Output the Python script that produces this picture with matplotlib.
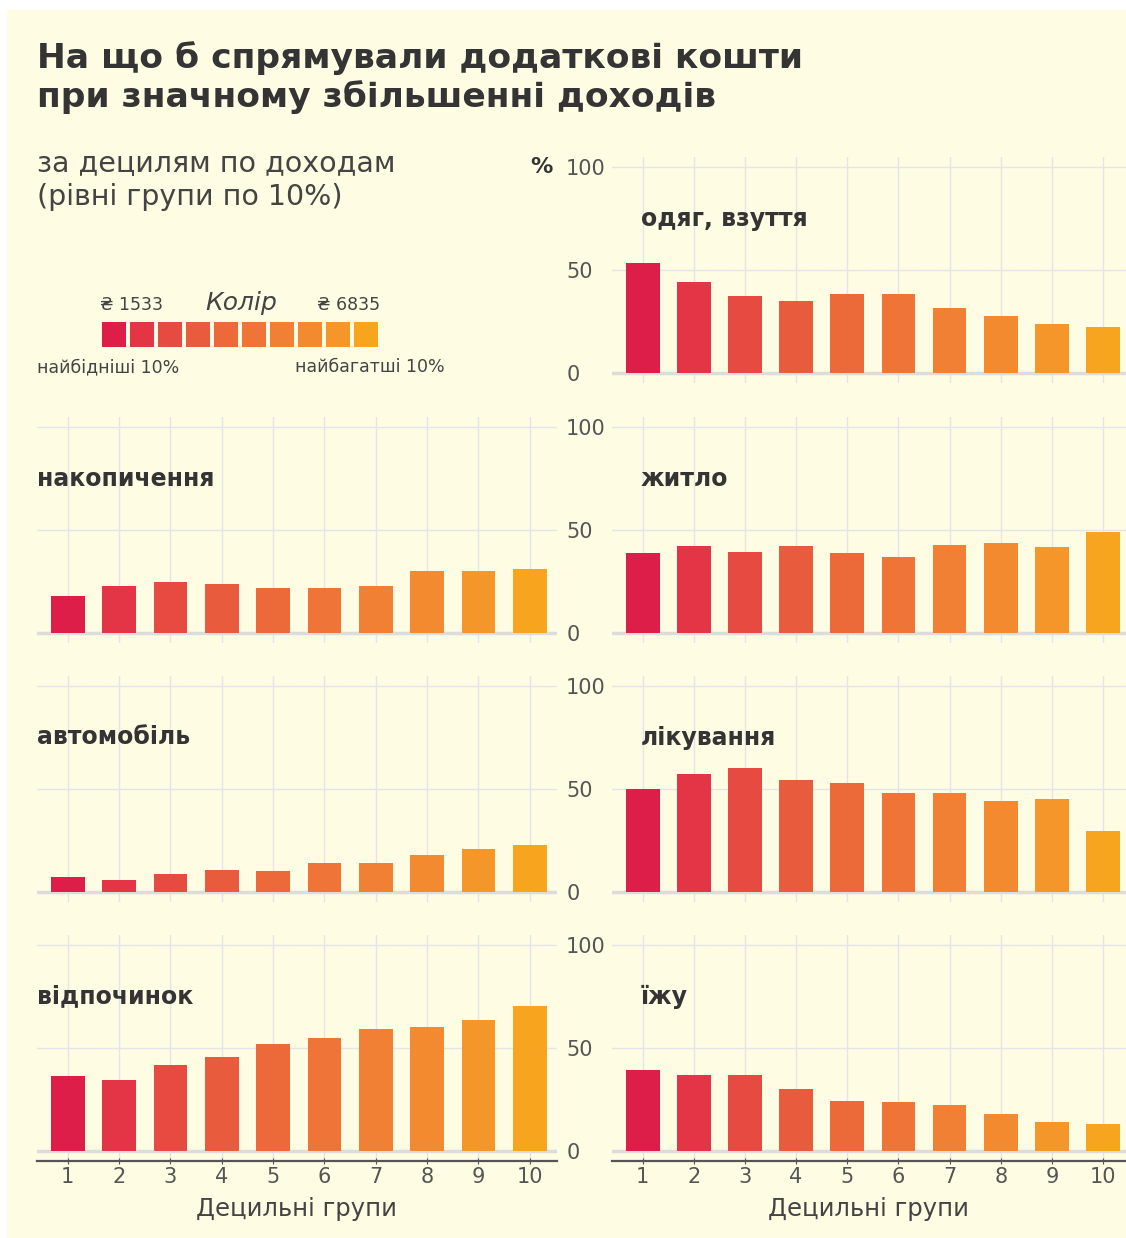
import matplotlib
matplotlib.use('Agg')
import matplotlib.pyplot as plt
from matplotlib.patches import Rectangle

plt.rcParams['font.family'] = ['DejaVu Sans']

deciles = [1, 2, 3, 4, 5, 6, 7, 8, 9, 10]
colors = ['#dc1e48', '#e33546', '#e74a40', '#e95b3d', '#ec6a3a',
          '#ef7437', '#f17f34', '#f38a2f', '#f5962a', '#f7a51e']

clothes = [53.3, 44.1, 37.6, 35.0, 38.4, 38.4, 31.4, 27.9, 23.7, 22.2]
savings = [18.2, 22.6, 24.9, 23.9, 21.7, 21.7, 22.8, 30.0, 30.1, 31.1]
housing = [38.6, 42.4, 39.1, 42.0, 38.6, 36.9, 42.9, 43.5, 41.7, 49.2]
car = [7.2, 5.7, 8.5, 10.7, 10.1, 14.0, 14.2, 17.9, 20.7, 22.8]
health = [50.0, 57.5, 60.1, 54.6, 52.9, 48.0, 47.9, 44.0, 45.1, 29.8]
leisure = [36.6, 34.5, 41.9, 45.8, 51.8, 54.9, 59.1, 60.1, 63.8, 70.2]
food = [39.1, 37.0, 36.8, 30.0, 24.1, 23.8, 22.5, 18.2, 14.0, 12.9]

# (row, column, title, values); column 0 = left, 1 = right
panels = [
    (0, 1, 'одяг, взуття', clothes),
    (1, 0, 'накопичення', savings),
    (1, 1, 'житло', housing),
    (2, 0, 'автомобіль', car),
    (2, 1, 'лікування', health),
    (3, 0, 'відпочинок', leisure),
    (3, 1, 'їжу', food),
]

W, H = 1126, 1238
BG = '#fefce2'
DARK = '#343434'
GREY = '#555555'

fig = plt.figure(figsize=(W / 100, H / 100), dpi=100, facecolor='white')
fig.patches.append(Rectangle((7 / W, 0), 1 - 7 / W, 1 - 10 / H,
                             transform=fig.transFigure, color=BG, zorder=-10))


def ftext(x, y, s, **kw):
    return fig.text(x / W, 1 - y / H, s, **kw)


def px_axes(x0, y0, x1, y1):
    return fig.add_axes([x0 / W, 1 - y1 / H, (x1 - x0) / W, (y1 - y0) / H])


ftext(37, 58, 'На що б спрямували додаткові кошти', fontsize=24.8,
      fontweight='bold', color=DARK, va='center')
ftext(37, 97, 'при значному збільшенні доходів', fontsize=24.8,
      fontweight='bold', color=DARK, va='center')
ftext(37, 163, 'за децилям по доходам', fontsize=20.5, color='#444444', va='center')
ftext(37, 197, '(рівні групи по 10%)', fontsize=20.5, color='#444444', va='center')
ftext(530, 167, '%', fontsize=16, fontweight='bold', color=DARK, va='center')

# colour legend
lax = px_axes(100, 322, 380, 347)
lax.bar(deciles, [1] * 10, width=0.88, color=colors)
lax.set_xlim(0.5, 10.5)
lax.set_ylim(0, 1)
lax.axis('off')
ftext(100, 305, '₴ 1533', fontsize=12.5, color='#444444', va='center')
ftext(380, 305, '₴ 6835', fontsize=12.5, color='#444444', va='center', ha='right')
ftext(241, 303, 'Колір', fontsize=18, style='italic', color='#444444',
      va='center', ha='center')
ftext(37, 367, 'найбідніші 10%', fontsize=12.5, color='#444444', va='center')
ftext(445, 367, 'найбагатші 10%', fontsize=12.5, color='#444444', va='center', ha='right')

row_top = [167, 427, 686, 945]   # pixel y of the 100 line
ppu = 2.06                       # pixels per percent
for row, col, title, vals in panels:
    y100 = row_top[row]
    top = y100 - 5 * ppu
    bottom = y100 + 105 * ppu
    if col == 0:
        ax = px_axes(37, top, 557, bottom)
        ax.set_xlim(0.4, 10.53)
    else:
        ax = px_axes(612, top, 1126, bottom)
        ax.set_xlim(0.4, 10.45)
    ax.set_ylim(-5, 105)
    ax.set_facecolor('none')
    ax.bar(deciles, vals, width=0.66, color=colors, zorder=3)
    ax.axhline(0, color='#dcdcdc', lw=2.5, zorder=2)
    ax.set_xticks(deciles)
    ax.set_yticks([0, 50, 100])
    ax.grid(True, color='#e4e4ea', lw=1, zorder=0)
    ax.set_axisbelow(True)
    for s in ['top', 'right', 'left']:
        ax.spines[s].set_visible(False)
    ax.tick_params(axis='y', length=0)
    if col == 1:
        ax.tick_params(axis='y', labelsize=15, labelcolor=GREY, pad=33)
        for lb in ax.get_yticklabels():
            lb.set_ha('left')
    else:
        ax.tick_params(axis='y', labelleft=False)
    if row == 3:
        ax.spines['bottom'].set_color(GREY)
        ax.spines['bottom'].set_linewidth(1.6)
        ax.tick_params(axis='x', length=4, direction='inout', color=GREY,
                       labelsize=15, labelcolor=GREY, pad=2)
        ax.set_xlabel('Децильні групи', fontsize=17.5, color='#444444', labelpad=7)
    else:
        ax.spines['bottom'].set_visible(False)
        ax.tick_params(axis='x', length=0, labelbottom=False)
    tx = 0.0 if col == 0 else 0.056
    ax.text(tx, 75, title, transform=ax.get_yaxis_transform(), fontsize=17,
            fontweight='bold', color=DARK, va='center', ha='left')

fig.savefig('out.png', dpi=100, facecolor='white')
